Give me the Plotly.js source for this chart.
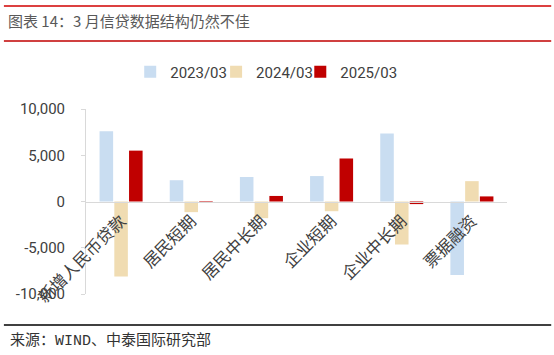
<!DOCTYPE html>
<html><head><meta charset="utf-8">
<script src="https://cdn.plot.ly/plotly-3.0.1.min.js"></script>
<style>html,body{margin:0;padding:0;background:#fff;}#chart{width:554px;height:355px;}</style>
</head><body><div id="chart"></div>
<script>
const categories = ["新增人民币贷款","居民短期","居民中长期","企业短期","企业中长期","票据融资"];
const seriesNames = ["2023/03","2024/03","2025/03"];
const v2023 = [7600, 2300, 2650, 2750, 7350, -7950];
const v2024 = [-8100, -1150, -1800, -1050, -4650, 2200];
const v2025 = [5500, -150, 600, 4650, -280, 550];
const colors = ["#C9DDF1","#F0DCB2","#C00000"];
const yTicks = [-10000,-5000,0,5000,10000];
const yTickText = ["-10,000","-5,000","0","5,000","10,000"];

const legendIds = ['legend','legend2','legend3'];
const data = [v2023, v2024, v2025].map((v,i)=>({
  type:'bar', x:categories, y:v, name:seriesNames[i], legend:legendIds[i], showlegend:true,
  marker:{color:colors[i], line:{width:0}}
}));

const legendBase = {orientation:'h', xanchor:'left', y:1.2, yanchor:'middle', bgcolor:'rgba(0,0,0,0)',
  font:{family:'Roboto, sans-serif', size:15, color:'#404040'}, itemwidth:30};
const legX = [0.105, 0.309, 0.509];

const layout = {
  width:554, height:355,
  showlegend:true,
  margin:{l:86, r:47, t:109, b:61},
  paper_bgcolor:'#fff', plot_bgcolor:'#fff',
  barmode:'group', bargap:0.37, bargroupgap:0.08,
  font:{family:'Roboto, "Noto Sans CJK SC", sans-serif', color:'#404040'},
  title:{text:'图表 14：3 月信贷数据结构仍然不佳', x:8/554, xanchor:'left', xref:'container',
    y:1-22/355, yanchor:'middle', yref:'container',
    font:{family:'"Noto Sans CJK SC", sans-serif', size:15, color:'#595959'}},
  xaxis:{type:'category', anchor:'free', position:0.5, showline:true, linecolor:'#D9D9D9', linewidth:1.5,
    ticks:'', tickangle:-45, showgrid:false, zeroline:false, ticklabelstandoff:2,
    tickfont:{family:'"Noto Sans CJK SC", serif', size:16.5, color:'#404040'}},
  yaxis:{range:[-10000,10000], tickvals:yTicks, ticktext:yTickText, showline:true, linecolor:'#D9D9D9',
    linewidth:1, showgrid:false, zeroline:false, ticks:'outside', ticklen:4, tickcolor:'#D9D9D9',
    ticklabelstandoff:13,
    tickfont:{family:'Roboto, "Liberation Sans", sans-serif', size:15, color:'#404040'}},
  legend: Object.assign({}, legendBase, {x:legX[0]}),
  legend2: Object.assign({}, legendBase, {x:legX[1]}),
  legend3: Object.assign({}, legendBase, {x:legX[2]}),
  shapes:[
    {type:'line', xref:'paper', yref:'paper', x0:-0.195, x1:1.105, y0:(294-6)/185, y1:(294-6)/185, line:{color:'#D00000', width:1.5}},
    {type:'line', xref:'paper', yref:'paper', x0:-0.195, x1:1.105, y0:(294-41)/185, y1:(294-41)/185, line:{color:'#C00000', width:1.5}},
    {type:'line', xref:'paper', yref:'paper', x0:-0.195, x1:1.105, y0:(294-325)/185, y1:(294-325)/185, line:{color:'#000', width:1.5}}
  ],
  annotations:[
    {text:'来源：WIND、中泰国际研究部', xref:'paper', yref:'paper', x:(8-86)/421, xanchor:'left',
     y:(294-341)/185, yanchor:'middle', showarrow:false,
     font:{family:'"Liberation Mono", "Noto Sans CJK SC", monospace', size:15, color:'#333'}}
  ]
};
Plotly.newPlot('chart', data, layout, {displayModeBar:false, staticPlot:true});
</script></body></html>
